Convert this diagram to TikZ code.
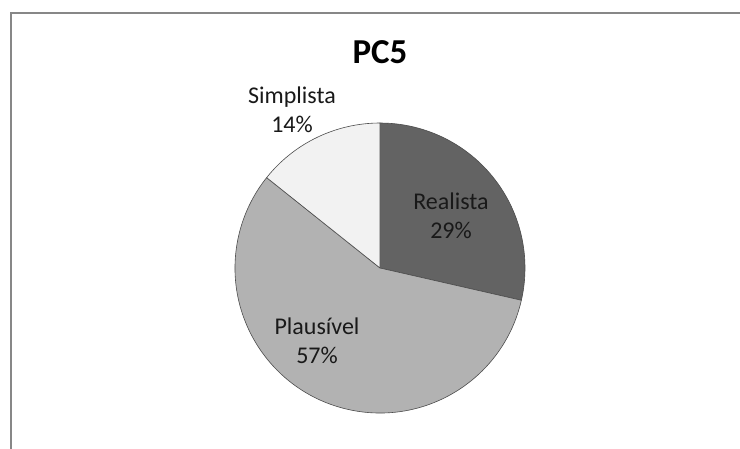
\documentclass[tikz,border=0pt]{standalone}
\usepackage{fontspec}
\setmainfont{Carlito}
\begin{document}
\begin{tikzpicture}[x=1pt,y=-1pt,
  slice/.style={draw=black!70,line width=0.6pt},
  pctlabel/.style={align=center,text=black!90,font=\fontsize{24}{29}\selectfont,anchor=base,inner sep=0pt},
  charttitle/.style={font=\fontsize{35}{38}\bfseries\selectfont,anchor=base,inner sep=0pt}]
  % canvas
  \useasboundingbox (0,0) rectangle (740,448);
  \fill[white] (0,0) rectangle (740,448);
  % chart area frame (runs off the right and bottom)
  \draw[color=black!47,line width=2pt] (10.5,460) -- (10.5,13) -- (760,13);
  % pie: centre and radius
  \coordinate (c) at (380,268);
  \def\R{145}
  % Realista 2/7, Plausivel 4/7, Simplista 1/7 (angles in y-down frame)
  \fill[black!61,slice] (c) -- ++(-90:\R) arc[start angle=-90,end angle=12.857,radius=\R] -- cycle;
  \fill[black!30,slice] (c) -- ++(12.857:\R) arc[start angle=12.857,end angle=218.571,radius=\R] -- cycle;
  \fill[black!5,slice] (c) -- ++(218.571:\R) arc[start angle=218.571,end angle=270,radius=\R] -- cycle;
  % title
  \node[charttitle] (title) at (380,63) {PC5};
  % slice labels (base anchor sits on the last line's baseline)
  \node[pctlabel] (simp) at (292,132) {Simplista\\14\%};
  \node[pctlabel] (real) at (451,238) {Realista\\29\%};
  \node[pctlabel] (plau) at (317,363) {Plausível\\57\%};
\end{tikzpicture}
\end{document}
